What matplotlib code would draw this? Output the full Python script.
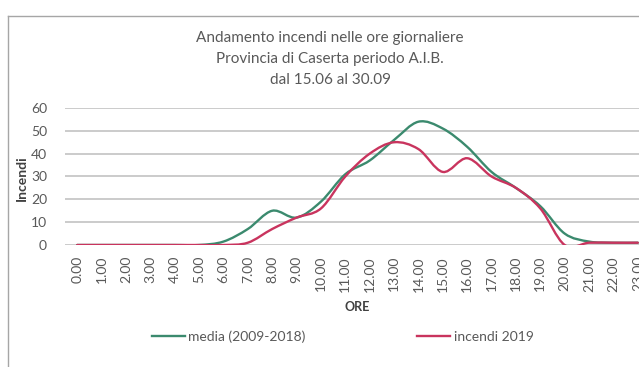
import matplotlib
matplotlib.use("Agg")
import matplotlib.pyplot as plt
from matplotlib.path import Path
from matplotlib.patches import PathPatch
from matplotlib.lines import Line2D
import numpy as np

# hours of the day (category axis)
ore = [f"{h}.00" for h in range(24)]
media = [0, 0, 0, 0, 0, 0, 1.5, 7, 15, 12, 19, 31, 37, 46, 54, 51, 43, 32, 25, 17, 5, 1.5, 1, 1]
incendi_2019 = [0, 0, 0, 0, 0, 0, 0, 1, 7, 12, 16, 30, 40, 45, 42, 32, 38, 30, 25, 16, 0, 1, 1, 1]
y_ticks = [0, 10, 20, 30, 40, 50, 60]

GREEN = "#3b8a6e"
RED = "#c9345e"
GRID = "#c4c4c4"
TEXT = "#595959"
FONT = "Lato"


def smooth_path(xs, ys):
    """Excel-style smoothed line: cubic Bezier segments (Catmull-Rom)."""
    pts = np.column_stack([np.asarray(xs, float), np.asarray(ys, float)])
    verts = [pts[0]]
    codes = [Path.MOVETO]
    n = len(pts)
    for i in range(n - 1):
        p0 = pts[i - 1] if i > 0 else pts[i]
        p1 = pts[i]
        p2 = pts[i + 1]
        p3 = pts[i + 2] if i + 2 < n else pts[i + 1]
        verts += [p1 + (p2 - p0) / 6, p2 - (p3 - p1) / 6, p2]
        codes += [Path.CURVE4] * 3
    return Path(verts, codes)


plt.rcParams["font.family"] = [FONT, "DejaVu Sans"]
fig = plt.figure(figsize=(6.39, 3.67), dpi=100)
fig.patch.set_facecolor("white")

# plot area runs past the right edge, like the cropped screenshot
ax = fig.add_axes([65 / 639, 1 - 245 / 367, 585 / 639, 137 / 367])
x = np.arange(len(ore))
for vals, col in [(media, GREEN), (incendi_2019, RED)]:
    ax.add_patch(PathPatch(smooth_path(x, vals), facecolor="none",
                           edgecolor=col, linewidth=1.7, capstyle="round"))

ax.set_xlim(-0.5, len(ore) - 0.5)
ax.set_ylim(0, 60)
ax.set_yticks(y_ticks)
ax.set_xticks(x)
ax.set_xticklabels(ore, rotation=90)
ax.tick_params(axis="both", length=0, colors=TEXT, labelsize=10)
ax.tick_params(axis="y", pad=13)
ax.tick_params(axis="x", pad=8)
ax.grid(axis="y", color="#bdbdbd", linewidth=1.1)
ax.set_axisbelow(True)
for s in ax.spines.values():
    s.set_visible(False)

fig.text(22 / 639, 1 - 178 / 367, "Incendi", rotation=90, ha="center",
         va="center", fontsize=10, fontweight="bold", color="#404040")
fig.text(357 / 639, 1 - 307 / 367, "ORE", ha="center", va="center",
         fontsize=9, fontweight="bold", color="#404040")

title = ["Andamento incendi nelle ore giornaliere",
         "Provincia di Caserta periodo A.I.B.",
         "dal 15.06 al 30.09"]
for i, line in enumerate(title):
    fig.text(330 / 639, 1 - (38 + 21 * i) / 367, line, ha="center",
             va="center", fontsize=11, color=TEXT)

handles = [Line2D([], [], color=GREEN, linewidth=1.7),
           Line2D([], [], color=RED, linewidth=1.7)]
fig.legend(handles, ["media (2009-2018)", "incendi 2019"], ncol=2,
           loc="center left", bbox_to_anchor=(139 / 639, 1 - 337 / 367),
           frameon=False, fontsize=10, labelcolor=TEXT, handlelength=2.4,
           handletextpad=0.25, columnspacing=8.0)

# chart frame (left and top edges visible in the crop)
fig.add_artist(Line2D([8 / 639, 8 / 639], [0, 1 - 16 / 367],
                      transform=fig.transFigure, color="#a6a6a6", linewidth=1))
fig.add_artist(Line2D([8 / 639, 1], [1 - 16 / 367, 1 - 16 / 367],
                      transform=fig.transFigure, color="#a6a6a6", linewidth=1))

fig.savefig("out.png", dpi=100, facecolor="white")
